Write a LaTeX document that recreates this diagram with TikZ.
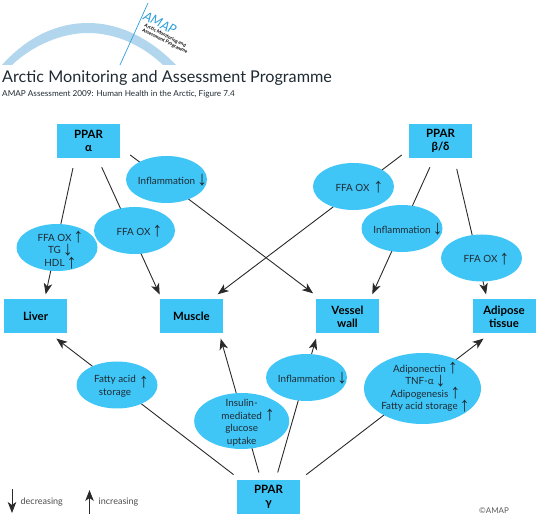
\documentclass[tikz,border=0pt]{standalone}
\usepackage{fontspec}
\setmainfont{Lato}
\newfontfamily\arrowfont{Liberation Sans}
\usetikzlibrary{shapes.geometric, positioning, arrows.meta, backgrounds}
\definecolor{amapcyan}{HTML}{40C6F6}
\definecolor{amaparc}{HTML}{B1D6EE}
\definecolor{amapline}{HTML}{2F9FD8}
\definecolor{inktext}{HTML}{1F2A33}
\definecolor{linkdark}{HTML}{2A2A2A}
\newcommand{\incr}[1][2pt]{\smash{\rlap{\hspace{#1}\raisebox{-1.5pt}{\arrowfont\bfseries\fontsize{20}{20}\selectfont ↑}}}}
\newcommand{\decr}[1][2pt]{\smash{\rlap{\hspace{#1}\raisebox{-1.5pt}{\arrowfont\bfseries\fontsize{20}{20}\selectfont ↓}}}}
\newcommand{\ovaltext}[3][0pt]{\makebox[0pt]{\hspace{#1}\smash{\raisebox{\dimexpr-0.25em-#2\relax}{\setlength{\tabcolsep}{0pt}\renewcommand{\arraystretch}{1.05}\begin{tabular}{c}#3\end{tabular}}}}}
\tikzset{
  target/.style={rectangle, minimum width=63pt, minimum height=34pt, inner sep=0pt, fill=amapcyan, text=black, align=center, font=\fontsize{11.4}{13}\selectfont\bfseries},
  bubble/.style={ellipse, minimum width=81pt, minimum height=47pt, inner sep=0pt, fill=amapcyan, text=inktext, font=\fontsize{9.9}{12}\selectfont},
  arrow/.style={line width=0.9pt, draw=linkdark, -{Stealth[length=11pt,width=8.5pt,inset=3pt]}},
  caption/.style={anchor=base west, inner sep=0pt, text=inktext}
}
\begin{document}
\begin{tikzpicture}[x=1pt, y=-1pt]
  \useasboundingbox (0,0) rectangle (536,518);

  % header
  \fill[amaparc] (2,65) .. controls (28,36) and (58,23) .. (88,23) .. controls (119,23) and (150,38) .. (176,65) -- (163,65) .. controls (141,44) and (114,33) .. (88,33) .. controls (62,33) and (33,45) .. (12,65) -- cycle;
  \draw[amapline, line width=0.7pt] (148,3) -- (120,65);
  \node (logoname) [inner sep=0pt, rotate=-27, text=amapline, font=\fontsize{13}{13}\selectfont\itshape] at (160,23) {AMAP};
  \node (logosub) [inner sep=0pt, rotate=-27, align=left, text=black, font=\fontsize{4.7}{5}\selectfont\bfseries] at (166,39) {Arctic Monitoring and\\Assessment Programme};
  \node (title) [caption, font=\fontsize{16.2}{17}\selectfont] at (2,83) {Arctic Monitoring and Assessment Programme};
  \node (subtitle) [caption, font=\fontsize{8.2}{9}\selectfont] at (2,97) {AMAP Assessment 2009: Human Health in the Arctic, Figure 7.4};

  % receptors
  \node (palpha) [target] at (88.5,141) {PPAR\\α};
  \node (pbeta) [target] at (440.5,141) {PPAR\\β/δ};
  \node (pgamma) [target] at (268.5,497) {PPAR\\γ};

  % tissues
  \node (liver) [target] at (35.5,316.5) {Liver};
  \node (muscle) [target] at (191.5,316.5) {Muscle};
  \node (vessel) [target] at (347.5,316.5) {Vessel\\wall};
  \node (adipose) [target] at (504,316.5) {Adipose\\tissue};

  % effects
  \node (lipids) [bubble] at (57,247.5) {\ovaltext[-5pt]{4pt}{FFA OX\incr\\TG\decr\\HDL\incr}};
  \node (oxmuscle) [bubble] at (134.5,230.5) {\ovaltext[-2pt]{2.3pt}{FFA OX\incr}};
  \node (inflamvessel) [bubble] at (166.5,179.5) {\ovaltext{2.3pt}{Inflammation\decr}};
  \node (oxbeta) [bubble] at (353.5,186.5) {\ovaltext[-2pt]{2.3pt}{FFA OX\incr[4pt]}};
  \node (inflambeta) [bubble] at (402,228.5) {\ovaltext{2.3pt}{Inflammation\decr}};
  \node (oxadipose) [bubble] at (481.5,258) {\ovaltext[-2pt]{2.3pt}{FFA OX\incr}};
  \node (storage) [bubble] at (117,385) {\ovaltext[-4pt]{1.5pt}{Fatty acid\raisebox{-3pt}{\incr[3pt]}\\storage}};
  \node (insulin) [bubble, minimum width=95pt, minimum height=56pt] at (241.7,421) {\ovaltext{2pt}{Insulin-\\mediated\incr[3pt]\\glucose\\uptake}};
  \node (inflamgamma) [bubble] at (306.5,377.5) {\ovaltext{2.3pt}{Inflammation\decr}};
  \node (adipo) [bubble, minimum width=117pt, minimum height=71pt] at (422.5,388.5) {\ovaltext[-6pt]{0pt}{Adiponectin\incr\\TNF-α\decr\\Adipogenesis\incr\\Fatty acid storage\incr}};

  % key
  \coordinate (downtop) at (12,489);
  \coordinate (downtip) at (12,513);
  \coordinate (uptail) at (89.5,514);
  \coordinate (uptip) at (89.5,490);
  \node (decreasing) [caption, text=black!70, font=\fontsize{9}{10}\selectfont] at (20.5,505) {decreasing};
  \node (increasing) [caption, text=black!70, font=\fontsize{9}{10}\selectfont] at (98.5,505) {increasing};
  \node (copyright) [caption, text=black!65, font=\fontsize{8}{9}\selectfont] at (479,514) {©AMAP};

  \begin{pgfonlayer}{background}
    \draw [arrow, shorten <=10.2pt, shorten >=5.1pt] ([xshift=-13.4pt]palpha.south) -- ([xshift=9.1pt]liver.north);
    \draw [arrow, shorten <=9.9pt, shorten >=5.2pt] ([xshift=9.1pt]palpha.south) -- ([xshift=-29.7pt]muscle.north);
    \draw [arrow, shorten <=12.5pt, shorten >=9.9pt] ([yshift=-6.4pt]palpha.east) -- ([xshift=-26.5pt]vessel.north);
    \draw [arrow, shorten <=8.8pt, shorten >=8.3pt] ([yshift=-8.7pt]pbeta.west) -- ([xshift=19.6pt]muscle.north);
    \draw [arrow, shorten <=9.9pt, shorten >=5.5pt] ([xshift=-6.5pt]pbeta.south) -- ([xshift=22.5pt]vessel.north);
    \draw [arrow, shorten <=11pt, shorten >=5.1pt] ([xshift=13.7pt]pbeta.south) -- ([xshift=-16.8pt]adipose.north);
    \draw [arrow, shorten <=8.5pt, shorten >=8pt] ([xshift=-28.2pt]pgamma.north) -- ([xshift=14.5pt]liver.south);
    \draw [arrow, shorten <=7.6pt, shorten >=5.2pt] ([xshift=-7.5pt]pgamma.north) -- ([xshift=27.8pt]muscle.south);
    \draw [arrow, shorten <=7.6pt, shorten >=5.2pt] ([xshift=7.1pt]pgamma.north) -- ([xshift=-30.1pt]vessel.south);
    \draw [arrow, shorten <=8.5pt, shorten >=8pt] ([xshift=31.1pt]pgamma.north) -- ([xshift=-14.1pt]adipose.south);
  \end{pgfonlayer}
  \draw [arrow] (downtop) -- (downtip);
  \draw [arrow] (uptail) -- (uptip);
\end{tikzpicture}
\end{document}
